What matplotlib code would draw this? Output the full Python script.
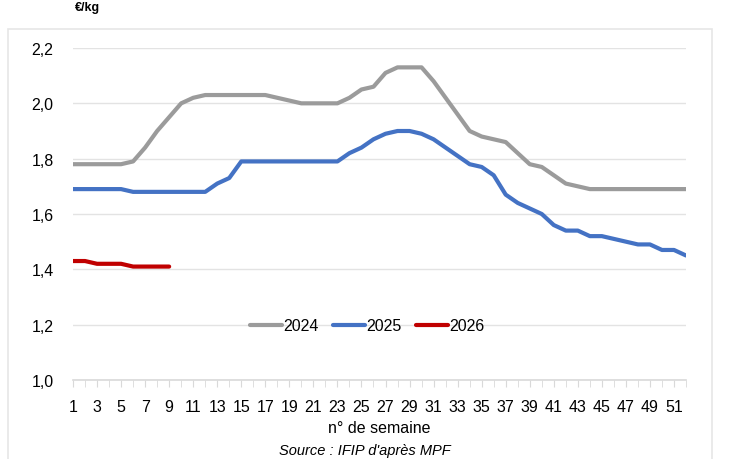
import matplotlib
matplotlib.use("Agg")
from matplotlib import pyplot as plt
from matplotlib.patches import Rectangle

plt.rcParams["font.family"] = ["Liberation Sans", "DejaVu Sans"]

weeks = list(range(1, 53))

# prix hebdomadaires (lecture du graphique)
prix_2024 = [1.78, 1.78, 1.78, 1.78, 1.78, 1.79, 1.84, 1.90, 1.95, 2.00,
             2.02, 2.03, 2.03, 2.03, 2.03, 2.03, 2.03, 2.02, 2.01, 2.00,
             2.00, 2.00, 2.00, 2.02, 2.05, 2.06, 2.11, 2.13, 2.13, 2.13,
             2.08, 2.02, 1.96, 1.90, 1.88, 1.87, 1.86, 1.82, 1.78, 1.77,
             1.74, 1.71, 1.70, 1.69, 1.69, 1.69, 1.69, 1.69, 1.69, 1.69,
             1.69, 1.69]
prix_2025 = [1.69, 1.69, 1.69, 1.69, 1.69, 1.68, 1.68, 1.68, 1.68, 1.68,
             1.68, 1.68, 1.71, 1.73, 1.79, 1.79, 1.79, 1.79, 1.79, 1.79,
             1.79, 1.79, 1.79, 1.82, 1.84, 1.87, 1.89, 1.90, 1.90, 1.89,
             1.87, 1.84, 1.81, 1.78, 1.77, 1.74, 1.67, 1.64, 1.62, 1.60,
             1.56, 1.54, 1.54, 1.52, 1.52, 1.51, 1.50, 1.49, 1.49, 1.47,
             1.47, 1.45]
prix_2026 = [1.43, 1.43, 1.42, 1.42, 1.42, 1.41, 1.41, 1.41, 1.41]

yticks = [1.0, 1.2, 1.4, 1.6, 1.8, 2.0, 2.2]
ytick_labels = ["1,0", "1,2", "1,4", "1,6", "1,8", "2,0", "2,2"]
xtick_labels = list(range(1, 52, 2))

fig = plt.figure(figsize=(7.3, 4.6), dpi=100)
ax = fig.add_axes([73 / 730, 1 - 381 / 460, 613 / 730, 332 / 460])

# cadre gris clair autour du graphique
fig.patches.append(Rectangle((8 / 730, -0.01), 704 / 730, 1 - 30 / 460 + 0.01,
                             transform=fig.transFigure, fill=False,
                             edgecolor="#e6e6e6", linewidth=1.2))
fig.text(75 / 730, 1 - 2 / 460, "€/kg", fontsize=9, fontweight="bold", va="top")

ax.plot(weeks, prix_2024, color="#9b9b9b", lw=3, label="2024", solid_capstyle="round")
ax.plot(weeks, prix_2025, color="#4472c4", lw=3, label="2025", solid_capstyle="round")
ax.plot(weeks[:len(prix_2026)], prix_2026, color="#c00000", lw=3, label="2026",
        solid_capstyle="round")

ax.set_xlim(1, 52)
ax.set_ylim(1.0, 2.2)
ax.set_yticks(yticks)
ax.set_yticklabels(ytick_labels)
ax.set_xticks(xtick_labels)
ax.set_xticks(weeks, minor=True)
ax.yaxis.grid(True, color="#e3e3e3", lw=1)
ax.set_axisbelow(True)
for side in ["top", "right", "left"]:
    ax.spines[side].set_visible(False)
ax.spines["bottom"].set_color("#d9d9d9")
ax.spines["bottom"].set_linewidth(1.2)
ax.tick_params(axis="y", length=0, labelsize=11.5, pad=14)
ax.tick_params(axis="x", which="both", length=5, color="#d9d9d9", labelsize=11.5, pad=9)

ax.set_xlabel("n° de semaine", fontsize=11.5, labelpad=4)
fig.text(365 / 730, 1 - 451 / 460, "Source : IFIP d'après MPF", fontsize=10.5,
         style="italic", ha="center", va="center")

ax.legend(loc="center", bbox_to_anchor=(0.48, 0.163), ncol=3, frameon=False,
          fontsize=11.5, handlelength=2.0, handletextpad=0.1, columnspacing=0.9)

fig.savefig("out.png", dpi=100)
